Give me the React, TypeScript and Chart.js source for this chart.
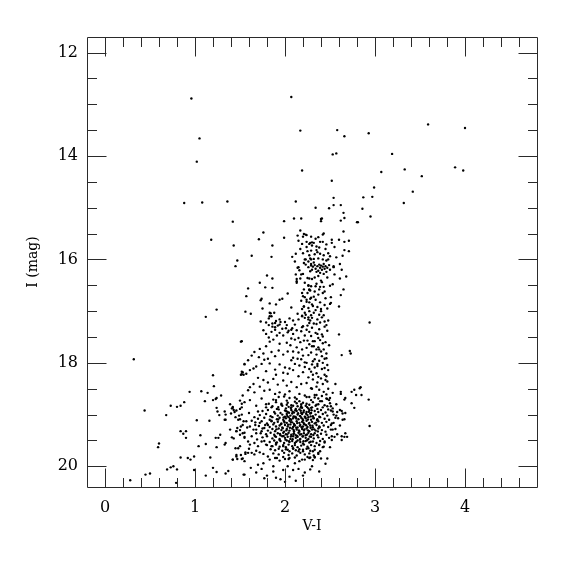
import React, { useEffect, useRef } from "react";
import { Chart, registerables } from "chart.js";

Chart.register(...registerables);

// ---- axis ticks / labels ----
const X_LABEL = "V-I";
const Y_LABEL = "I (mag)";
const X_MIN = -0.2;
const X_MAX = 4.8;
const Y_MIN = 11.7;
const Y_MAX = 20.4;
const X_MAJOR = [0, 1, 2, 3, 4];
const Y_MAJOR = [12, 14, 16, 18, 20];
const X_MINOR_STEP = 0.2;
const Y_MINOR_STEP = 0.5;

// ---- data: [V-I, I] ----
const brightGiants: number[][] = [
  [0.96, 12.89], [2.07, 12.86], [2.17, 13.51], [1.05, 13.66], [1.02, 14.11], [2.19, 14.28],
  [0.88, 14.91], [1.08, 14.90], [1.36, 14.88], [2.12, 14.88], [2.10, 15.21], [2.18, 15.21],
  [2.58, 13.50], [2.66, 13.62], [2.93, 13.56], [3.59, 13.39], [4.00, 13.46], [2.53, 13.97],
  [2.57, 13.95], [3.19, 13.96], [3.07, 14.31], [3.33, 14.26], [3.52, 14.39], [3.89, 14.22],
  [3.98, 14.28], [2.52, 14.48], [2.99, 14.61], [3.42, 14.69], [2.54, 14.81], [2.87, 14.80],
  [2.97, 14.79], [3.32, 14.91], [2.34, 15.00], [2.49, 15.01], [2.54, 14.95], [2.62, 14.95],
  [2.86, 15.02], [2.65, 15.10], [2.66, 15.20], [2.41, 15.21], [2.95, 15.17],
];

const upperBranch: number[][] = [
  [1.42, 15.27], [1.99, 15.26], [2.40, 15.22], [2.40, 15.26], [2.62, 15.25], [2.80, 15.28],
  [2.81, 15.28], [2.17, 15.44], [1.99, 15.58], [1.86, 15.73], [1.85, 15.95], [1.76, 15.48],
  [1.71, 15.61], [1.18, 15.62], [1.43, 15.73], [1.63, 15.93], [2.14, 15.54], [2.15, 15.64],
  [2.20, 15.56], [2.23, 15.52], [2.24, 15.66], [2.28, 15.68], [2.24, 15.76], [2.25, 15.84],
  [2.29, 15.83], [2.12, 15.89], [2.08, 15.95], [2.21, 15.51], [2.24, 15.53], [2.29, 15.56],
  [2.37, 15.57], [2.42, 15.52], [2.43, 15.50], [2.52, 15.62], [2.52, 15.68], [2.71, 15.64],
  [2.66, 15.66], [2.65, 15.46], [2.30, 15.67], [2.32, 15.68], [2.27, 15.70], [2.30, 15.73],
  [2.39, 15.66], [2.42, 15.66], [2.38, 15.77], [2.35, 15.75], [2.35, 15.82], [2.39, 15.89],
  [2.43, 15.92], [2.66, 15.82], [2.71, 15.84], [2.64, 15.93], [2.50, 15.94], [2.57, 15.96],
  [2.17, 15.80], [2.20, 15.88], [2.27, 15.92], [2.33, 15.90], [2.36, 15.86], [2.45, 15.80],
  [2.48, 15.88], [2.55, 15.76], [2.19, 15.70], [2.34, 15.60], [2.46, 15.71], [2.60, 15.62],
];

const clumpStars: number[][] = [
  [2.23, 16.00], [2.26, 16.04], [2.21, 16.07], [2.28, 15.98], [2.32, 15.99], [2.37, 15.98],
  [2.42, 16.00], [2.46, 16.02], [2.48, 16.00], [2.11, 16.04], [2.15, 16.15], [2.16, 16.21],
  [2.54, 16.13], [2.54, 16.15], [2.61, 16.09], [2.63, 16.20], [2.68, 16.33], [2.61, 16.37],
  [2.55, 16.29], [2.29, 16.09], [2.31, 16.14], [2.33, 16.11], [2.34, 16.18], [2.36, 16.13],
  [2.37, 16.22], [2.38, 16.10], [2.39, 16.16], [2.40, 16.12], [2.41, 16.20], [2.42, 16.14],
  [2.43, 16.09], [2.44, 16.18], [2.45, 16.13], [2.46, 16.24], [2.47, 16.16], [2.49, 16.11],
  [2.30, 16.20], [2.35, 16.24], [2.32, 16.06], [2.26, 16.15], [2.50, 16.20], [2.39, 16.26],
  [2.28, 16.23], [2.22, 16.00], [2.29, 16.00], [2.23, 16.10], [2.29, 16.12], [2.14, 16.16],
];

const middleBranch: number[][] = [
  [1.47, 16.02], [1.45, 16.13], [1.80, 16.31], [1.86, 16.37], [1.72, 16.45], [1.59, 16.56],
  [1.78, 16.54], [1.86, 16.55], [1.57, 16.71], [1.74, 16.76], [1.73, 16.79], [1.94, 16.78],
  [1.97, 16.76], [1.83, 16.85], [1.90, 16.87], [1.75, 16.95], [1.24, 16.97], [1.12, 17.11],
  [1.56, 17.01], [1.62, 17.05], [1.84, 17.04], [1.83, 17.10], [1.82, 17.14], [1.88, 17.03],
  [1.73, 17.20], [1.79, 17.22], [1.82, 17.27], [1.86, 17.24], [1.89, 17.23], [1.94, 17.16],
  [2.01, 17.33], [2.09, 17.18], [2.94, 17.22], [2.12, 16.29], [2.18, 16.29], [2.13, 16.42],
  [2.17, 16.37], [2.25, 16.36], [2.26, 16.51], [2.27, 16.59], [2.19, 16.65], [2.22, 16.73],
  [2.24, 16.82], [2.28, 16.76], [2.21, 16.91], [2.19, 17.09], [2.22, 17.13], [2.26, 17.12],
  [2.15, 17.16], [2.20, 17.29], [2.53, 16.48], [2.50, 16.51], [2.65, 16.58], [2.62, 16.69],
  [2.60, 16.91], [2.51, 16.73], [2.51, 16.84], [2.50, 16.86], [2.20, 16.28], [2.13, 16.38],
  [2.13, 16.45], [2.27, 16.37], [2.30, 16.38], [2.33, 16.35], [2.37, 16.32], [2.43, 16.28],
  [2.47, 16.35], [2.40, 16.41], [2.26, 16.50], [2.29, 16.52], [2.34, 16.52], [2.39, 16.53],
  [2.43, 16.53], [2.27, 16.58], [2.33, 16.62], [2.25, 16.65], [2.37, 16.68], [2.42, 16.65],
  [2.20, 16.71], [2.29, 16.74], [2.34, 16.78], [2.39, 16.83], [2.27, 16.83], [2.30, 16.87],
  [2.21, 16.91], [2.19, 16.96], [2.36, 16.92], [2.40, 16.96], [2.27, 17.00], [2.32, 17.03],
  [2.23, 17.07], [2.38, 17.07], [2.43, 17.08], [2.19, 17.10], [2.26, 17.16], [2.30, 17.13],
  [2.36, 17.16], [2.27, 17.23], [2.32, 17.24], [2.39, 17.22], [2.44, 17.20], [2.48, 17.18],
  [2.22, 16.45], [2.35, 16.47], [2.41, 16.44], [2.28, 16.60], [2.38, 16.58], [2.44, 16.62],
  [2.24, 16.78], [2.32, 16.72], [2.45, 16.75], [2.26, 16.94], [2.34, 16.98], [2.44, 16.88],
  [2.22, 17.03], [2.29, 17.08], [2.41, 17.12], [2.25, 17.28], [2.35, 17.25], [2.46, 17.27],
  [2.21, 16.58], [2.31, 16.90], [2.47, 16.95], [2.18, 16.80], [2.40, 17.00], [2.28, 17.18],
  [1.83, 17.03], [1.85, 17.10], [1.90, 17.19], [1.89, 17.31], [1.94, 17.26], [2.00, 17.21],
  [2.05, 17.14], [2.07, 17.36], [2.11, 17.26], [2.14, 17.05], [2.07, 16.93], [2.03, 16.66],
];

const lowerBranch: number[][] = [
  [2.60, 17.45], [2.63, 17.85], [2.72, 17.77], [2.73, 17.82], [2.56, 18.41], [2.42, 18.00],
  [2.44, 18.10], [2.41, 17.87], [2.46, 17.91], [2.38, 17.74], [2.42, 17.62], [2.42, 17.49],
  [2.37, 17.52], [2.44, 18.23], [2.46, 18.26], [2.45, 18.33], [2.30, 17.32], [2.38, 17.35],
  [2.44, 17.30], [2.27, 17.40], [2.34, 17.42], [2.41, 17.45], [2.47, 17.38], [2.31, 17.58],
  [2.39, 17.56], [2.45, 17.60], [2.30, 17.68], [2.37, 17.70], [2.43, 17.74], [2.49, 17.66],
  [2.29, 17.80], [2.35, 17.84], [2.40, 17.78], [2.46, 17.82], [2.33, 17.93], [2.38, 17.96],
  [2.44, 17.92], [2.30, 18.03], [2.36, 18.06], [2.41, 18.12], [2.47, 18.04], [2.29, 18.17],
  [2.35, 18.20], [2.40, 18.30], [2.48, 18.14], [2.31, 18.32], [2.36, 18.38], [2.42, 18.41],
  [2.47, 18.36], [2.30, 18.50], [2.38, 18.52], [2.43, 18.56], [2.48, 18.50], [2.53, 18.58],
  [2.35, 18.62], [2.41, 18.64], [2.46, 18.61], [2.08, 17.33], [2.13, 17.37], [2.19, 17.31],
  [2.24, 17.36], [2.11, 17.55], [2.17, 17.60], [2.21, 17.57], [2.06, 17.66], [2.13, 17.70],
  [2.19, 17.74], [2.09, 17.78], [2.14, 17.92], [2.20, 17.86], [2.07, 17.95], [2.24, 18.00],
  [1.86, 17.30], [1.92, 17.28], [1.97, 17.34], [2.02, 17.27], [2.04, 17.38], [1.95, 17.21],
  [1.76, 17.37], [1.79, 17.44], [1.85, 17.40], [1.89, 17.36], [1.91, 17.47], [1.82, 17.51],
  [1.87, 17.55], [1.94, 17.42], [1.98, 17.47], [2.03, 17.41], [2.09, 17.44], [2.15, 17.52],
  [2.18, 17.39], [2.22, 17.47], [2.25, 17.57], [2.29, 17.48], [2.33, 17.58], [2.36, 17.44],
  [2.27, 17.64], [2.32, 17.68], [2.24, 17.71], [2.35, 17.74], [2.07, 17.53], [2.02, 17.61],
  [1.94, 17.63], [1.83, 17.59], [1.79, 17.68], [1.52, 17.58], [1.72, 17.73], [1.66, 17.79],
  [1.63, 17.86], [1.59, 17.95], [1.55, 18.02], [1.53, 18.18], [1.52, 18.22], [1.57, 18.21],
  [1.61, 18.14], [1.65, 18.11], [1.68, 18.07], [1.74, 18.02], [1.77, 17.94], [1.71, 17.89],
  [1.76, 17.82], [1.81, 17.92], [1.85, 17.79], [1.89, 17.87], [1.93, 17.76], [1.98, 17.84],
  [2.03, 17.78], [2.09, 17.90], [2.15, 17.80], [2.18, 17.93], [2.22, 17.99], [2.26, 17.85],
  [2.31, 17.97], [2.36, 18.02], [2.33, 18.09], [2.27, 18.12], [2.22, 18.08], [2.16, 18.05],
  [2.11, 18.02], [2.05, 18.11], [2.00, 18.09], [1.94, 18.03], [1.89, 18.13], [1.83, 18.01],
  [1.79, 18.16], [1.90, 18.23], [1.98, 18.19], [2.03, 18.21], [2.09, 18.14], [2.15, 18.26],
  [2.20, 18.18], [2.26, 18.28], [2.31, 18.23], [2.37, 18.27], [1.70, 18.29], [1.76, 18.33],
  [1.81, 18.38], [1.87, 18.31], [1.92, 18.42], [1.98, 18.34], [2.02, 18.44], [2.07, 18.37],
  [2.13, 18.47], [2.18, 18.41], [2.24, 18.39], [2.29, 18.49], [2.35, 18.46], [1.65, 18.41],
  [1.61, 18.47], [1.59, 18.53], [1.66, 18.57], [1.72, 18.46], [1.77, 18.54], [1.83, 18.52],
  [1.89, 18.60], [1.94, 18.57], [2.00, 18.61], [2.05, 18.55], [2.11, 18.67], [2.16, 18.60],
  [2.22, 18.63], [2.27, 18.66], [2.33, 18.62], [2.37, 18.69], [1.53, 18.63], [1.50, 18.73],
  [1.55, 18.76], [1.61, 18.72], [1.68, 18.83], [1.74, 18.69], [1.79, 18.80], [1.85, 18.86],
  [1.90, 18.72], [1.96, 18.79], [2.02, 18.81], [2.07, 18.86], [2.13, 18.78], [2.18, 18.84],
  [2.24, 18.79], [2.29, 18.87], [2.35, 18.81], [1.42, 18.87], [1.50, 18.89],
];

const redFlank: number[][] = [
  [2.62, 18.56], [2.62, 18.60], [2.67, 18.68], [2.66, 18.71], [2.74, 18.56], [2.77, 18.52],
  [2.83, 18.49], [2.84, 18.47], [2.79, 18.62], [2.85, 18.62], [2.93, 18.71], [2.74, 18.78],
  [2.77, 18.87], [2.67, 18.97], [2.64, 18.98], [2.64, 19.10], [2.66, 19.09], [2.94, 19.22],
  [2.61, 19.21], [2.67, 19.36], [2.69, 19.43], [2.63, 19.49], [2.66, 19.43], [2.63, 19.42],
  [2.58, 19.38], [2.55, 19.43], [2.47, 19.85], [2.33, 19.83], [2.28, 19.83], [2.42, 19.63],
  [2.50, 19.63], [2.44, 19.52], [2.38, 19.59], [2.52, 19.49], [2.52, 19.42], [2.53, 19.29],
  [2.56, 19.28], [2.51, 19.20], [2.54, 19.16], [2.61, 18.91], [2.63, 18.93], [2.57, 19.02],
  [2.59, 19.07], [2.50, 18.68], [2.49, 18.72], [2.47, 18.70], [2.51, 18.84], [2.53, 18.94],
  [2.48, 18.90],
];

const blueStars: number[][] = [
  [0.32, 17.93], [1.51, 17.59], [1.55, 18.03], [1.52, 18.17], [1.54, 18.23], [1.51, 18.23],
  [1.20, 18.24], [1.21, 18.45], [0.94, 18.56], [1.07, 18.55], [1.14, 18.58], [1.11, 18.74],
  [1.20, 18.72], [1.24, 18.68], [1.23, 18.70], [1.29, 18.63], [0.88, 18.76], [0.84, 18.83],
  [0.80, 18.85], [0.73, 18.83], [0.44, 18.92], [0.68, 19.01], [1.02, 19.11], [1.16, 19.12],
  [1.24, 18.87], [1.25, 18.94], [1.27, 19.01], [1.33, 18.94], [1.34, 19.00], [1.33, 19.10],
  [1.34, 19.10], [1.39, 18.80], [1.41, 18.88], [1.43, 18.91], [1.42, 18.85], [1.46, 18.92],
  [1.49, 19.02], [1.52, 18.79], [1.52, 18.86], [1.40, 18.98], [1.45, 19.05], [1.50, 19.09],
  [1.54, 19.13], [0.84, 19.32], [0.90, 19.32], [0.87, 19.37], [0.90, 19.45], [1.06, 19.40],
  [1.12, 19.57], [1.04, 19.61], [1.23, 19.45], [1.26, 19.45], [1.24, 19.63], [1.28, 19.39],
  [1.33, 19.58], [1.34, 19.55], [1.39, 19.29], [1.41, 19.44], [1.43, 19.46], [1.46, 19.32],
  [1.50, 19.30], [1.47, 19.26], [1.51, 19.23], [1.53, 19.36], [1.55, 19.43], [0.60, 19.56],
  [0.59, 19.63], [0.84, 19.83], [0.92, 19.84], [0.95, 19.87], [0.99, 19.81], [1.17, 19.83],
  [1.20, 20.03], [1.24, 20.11], [1.34, 20.14], [1.37, 20.09], [1.42, 19.87], [1.47, 19.86],
  [1.53, 19.85], [1.54, 20.16], [1.48, 19.65], [1.46, 19.78], [1.51, 19.78], [1.56, 19.76],
  [0.69, 20.06], [0.73, 20.02], [0.76, 20.00], [0.80, 20.06], [0.99, 20.07], [1.12, 20.18],
  [0.79, 20.32], [0.45, 20.16], [0.50, 20.14], [0.28, 20.27],
];

const faintEdge: number[][] = [
  [1.42, 19.87], [1.46, 19.81], [1.52, 19.86], [1.55, 19.90], [1.45, 19.65], [1.50, 19.61],
  [1.59, 19.74], [1.63, 19.74], [1.66, 19.77], [1.72, 19.73], [1.76, 19.76], [1.81, 19.81],
  [1.83, 19.87], [1.89, 19.84], [1.94, 19.89], [2.00, 19.86], [2.05, 19.84], [2.11, 19.94],
  [2.16, 19.90], [2.22, 19.87], [2.27, 19.84], [2.33, 19.82], [1.70, 19.97], [1.76, 19.94],
  [1.87, 20.00], [1.98, 20.07], [2.03, 20.00], [2.09, 20.07], [1.55, 20.16], [1.77, 20.23],
  [1.80, 20.18], [1.87, 20.10], [1.46, 19.32], [1.50, 19.39], [1.55, 19.45], [1.59, 19.52],
  [1.61, 19.58], [1.66, 19.55], [1.70, 19.61], [1.74, 19.52], [1.79, 19.58], [1.85, 19.61],
  [1.90, 19.55], [1.53, 19.20], [1.48, 19.10], [1.57, 19.13], [1.61, 19.23], [1.65, 19.29],
  [1.68, 19.36], [1.74, 19.32], [1.77, 19.26], [1.81, 19.20], [1.85, 19.13], [1.72, 19.16],
  [1.89, 19.42], [1.94, 19.49], [1.98, 19.61], [2.03, 19.68], [2.09, 19.65], [2.15, 19.71],
  [2.20, 19.68], [2.26, 19.65], [2.31, 19.71], [2.37, 19.74], [2.15, 20.05], [2.22, 20.12],
  [2.30, 20.00], [2.38, 20.10], [2.45, 19.95], [2.05, 20.20], [1.95, 20.25], [2.12, 20.28],
  [1.62, 20.03], [1.68, 20.12], [1.74, 20.05], [1.90, 20.22], [2.00, 20.30], [2.20, 20.18],
  [2.28, 20.06], [1.44, 18.95], [1.52, 19.00], [1.60, 18.97], [1.66, 19.05], [1.70, 18.94],
  [1.63, 19.12], [1.58, 19.25], [1.67, 19.20], [1.55, 19.35], [1.63, 19.42], [1.69, 19.48],
  [1.60, 19.66], [1.68, 19.70], [1.56, 19.73],
];

const faintCore: number[][] = [
  [1.87, 18.71], [1.93, 18.66], [2.02, 18.73], [2.05, 18.68], [2.13, 18.70], [2.16, 18.74], [2.24, 18.66], [2.29, 18.72], [2.33, 18.67], [2.41, 18.74], [2.46, 18.69], [1.99, 18.65],
  [1.82, 18.79], [1.90, 18.76], [1.96, 18.81], [2.03, 18.77], [2.07, 18.82], [2.11, 18.75], [2.18, 18.80], [2.20, 18.77], [2.27, 18.81], [2.31, 18.76], [2.37, 18.80], [2.39, 18.74], [2.44, 18.82], [2.50, 18.78], [2.57, 18.80],
  [1.79, 18.86], [1.86, 18.84], [1.91, 18.89], [1.97, 18.83], [2.01, 18.88], [2.04, 18.85], [2.09, 18.83], [2.12, 18.89], [2.14, 18.84], [2.19, 18.87], [2.23, 18.83], [2.26, 18.88], [2.30, 18.86], [2.34, 18.83], [2.36, 18.89], [2.42, 18.86], [2.47, 18.84], [2.53, 18.88],
  [1.75, 18.93], [1.81, 18.91], [1.88, 18.95], [1.93, 18.90], [1.95, 18.97], [2.00, 18.92], [2.03, 18.95], [2.07, 18.91], [2.10, 18.96], [2.13, 18.93], [2.16, 18.90], [2.18, 18.97], [2.21, 18.92], [2.24, 18.95], [2.27, 18.91], [2.29, 18.97], [2.33, 18.93], [2.37, 18.95], [2.40, 18.91], [2.45, 18.96], [2.51, 18.92], [2.58, 18.95],
  [1.72, 19.01], [1.79, 18.99], [1.84, 19.03], [1.89, 18.98], [1.92, 19.02], [1.97, 19.00], [2.00, 19.04], [2.02, 18.99], [2.06, 19.02], [2.08, 18.98], [2.11, 19.04], [2.14, 19.00], [2.17, 19.03], [2.19, 18.99], [2.22, 19.04], [2.25, 19.01], [2.28, 18.98], [2.31, 19.03], [2.34, 19.00], [2.38, 19.04], [2.42, 18.99], [2.47, 19.02], [2.54, 19.00],
  [1.70, 19.08], [1.77, 19.06], [1.83, 19.10], [1.86, 19.05], [1.91, 19.09], [1.94, 19.06], [1.98, 19.10], [2.01, 19.07], [2.04, 19.05], [2.07, 19.10], [2.09, 19.07], [2.12, 19.05], [2.15, 19.09], [2.18, 19.06], [2.20, 19.11], [2.23, 19.07], [2.26, 19.05], [2.29, 19.10], [2.32, 19.07], [2.36, 19.09], [2.39, 19.05], [2.44, 19.08], [2.49, 19.10], [2.56, 19.06],
  [1.67, 19.15], [1.74, 19.13], [1.80, 19.17], [1.85, 19.12], [1.88, 19.16], [1.92, 19.14], [1.96, 19.17], [1.99, 19.13], [2.02, 19.16], [2.05, 19.12], [2.08, 19.15], [2.10, 19.18], [2.13, 19.13], [2.16, 19.16], [2.19, 19.14], [2.21, 19.18], [2.24, 19.12], [2.27, 19.16], [2.30, 19.14], [2.33, 19.17], [2.37, 19.13], [2.41, 19.16], [2.46, 19.14], [2.52, 19.17],
  [1.71, 19.22], [1.78, 19.20], [1.83, 19.24], [1.87, 19.19], [1.90, 19.23], [1.94, 19.21], [1.97, 19.25], [2.00, 19.20], [2.03, 19.23], [2.06, 19.19], [2.09, 19.24], [2.11, 19.21], [2.14, 19.25], [2.17, 19.20], [2.20, 19.23], [2.22, 19.19], [2.25, 19.24], [2.28, 19.21], [2.31, 19.25], [2.35, 19.20], [2.38, 19.23], [2.43, 19.21], [2.48, 19.24],
  [1.68, 19.29], [1.75, 19.27], [1.81, 19.31], [1.86, 19.28], [1.89, 19.32], [1.93, 19.27], [1.96, 19.30], [1.99, 19.33], [2.02, 19.28], [2.05, 19.31], [2.08, 19.27], [2.10, 19.32], [2.13, 19.29], [2.16, 19.33], [2.19, 19.28], [2.21, 19.31], [2.24, 19.27], [2.27, 19.32], [2.30, 19.29], [2.34, 19.31], [2.37, 19.27], [2.41, 19.30], [2.45, 19.33], [2.51, 19.29],
  [1.73, 19.36], [1.79, 19.38], [1.84, 19.35], [1.88, 19.39], [1.92, 19.36], [1.95, 19.40], [1.98, 19.35], [2.01, 19.38], [2.04, 19.35], [2.07, 19.39], [2.10, 19.36], [2.12, 19.40], [2.15, 19.35], [2.18, 19.38], [2.21, 19.36], [2.23, 19.40], [2.26, 19.35], [2.29, 19.38], [2.33, 19.36], [2.36, 19.40], [2.40, 19.37], [2.46, 19.39],
  [1.75, 19.44], [1.80, 19.42], [1.86, 19.46], [1.90, 19.43], [1.94, 19.47], [1.97, 19.42], [2.00, 19.45], [2.03, 19.43], [2.06, 19.47], [2.09, 19.42], [2.12, 19.45], [2.14, 19.43], [2.17, 19.47], [2.20, 19.42], [2.23, 19.45], [2.26, 19.47], [2.29, 19.43], [2.32, 19.46], [2.37, 19.44], [2.42, 19.47], [2.49, 19.45],
  [1.77, 19.51], [1.83, 19.53], [1.88, 19.50], [1.91, 19.54], [1.95, 19.51], [1.99, 19.55], [2.02, 19.50], [2.05, 19.53], [2.08, 19.51], [2.11, 19.55], [2.14, 19.50], [2.17, 19.53], [2.20, 19.56], [2.23, 19.51], [2.27, 19.54], [2.31, 19.52], [2.35, 19.55], [2.39, 19.51], [2.44, 19.54],
  [1.80, 19.59], [1.86, 19.61], [1.90, 19.58], [1.94, 19.62], [1.98, 19.59], [2.01, 19.63], [2.04, 19.58], [2.08, 19.61], [2.11, 19.59], [2.14, 19.63], [2.18, 19.60], [2.21, 19.58], [2.25, 19.62], [2.29, 19.59], [2.33, 19.61], [2.38, 19.58], [2.43, 19.62],
  [1.84, 19.67], [1.89, 19.69], [1.93, 19.66], [1.97, 19.70], [2.01, 19.67], [2.05, 19.71], [2.09, 19.66], [2.12, 19.69], [2.16, 19.67], [2.20, 19.71], [2.24, 19.66], [2.28, 19.70], [2.33, 19.68], [2.39, 19.71],
  [1.87, 19.75], [1.93, 19.77], [1.99, 19.74], [2.04, 19.78], [2.08, 19.75], [2.13, 19.79], [2.17, 19.74], [2.22, 19.77], [2.27, 19.75], [2.32, 19.79], [2.37, 19.76],
  [1.91, 19.84], [1.98, 19.82], [2.04, 19.86], [2.11, 19.83], [2.19, 19.87], [2.25, 19.82], [2.31, 19.88], [2.40, 19.85],
];

const denseHeart: number[][] = [
  [2.015, 18.935], [2.045, 18.965], [2.085, 18.945], [2.115, 18.915], [2.145, 18.975], [2.175, 18.925],
  [2.205, 18.955], [2.235, 18.985], [2.265, 18.945], [2.295, 18.915], [1.985, 19.055], [2.025, 19.025],
  [2.055, 19.085], [2.095, 19.035], [2.125, 19.075], [2.165, 19.025], [2.195, 19.085], [2.225, 19.045],
  [2.255, 19.095], [2.285, 19.035], [2.315, 19.065], [1.955, 19.185], [1.995, 19.155], [2.035, 19.195],
  [2.065, 19.145], [2.105, 19.205], [2.135, 19.165], [2.165, 19.215], [2.205, 19.155], [2.235, 19.205],
  [2.265, 19.175], [2.305, 19.215], [2.345, 19.155], [1.975, 19.265], [2.015, 19.305], [2.055, 19.255],
  [2.095, 19.295], [2.125, 19.255], [2.155, 19.305], [2.185, 19.245], [2.215, 19.285], [2.255, 19.305],
  [2.285, 19.255], [2.325, 19.285], [1.945, 19.375], [1.985, 19.415], [2.025, 19.385], [2.065, 19.425],
  [2.095, 19.375], [2.135, 19.415], [2.165, 19.385], [2.195, 19.425], [2.245, 19.385], [2.275, 19.425],
  [2.315, 19.395], [2.005, 19.485], [2.045, 19.515], [2.085, 19.475], [2.125, 19.525], [2.165, 19.485],
  [2.205, 19.515], [2.245, 19.495], [2.285, 19.525], [1.925, 18.855], [2.065, 18.875], [2.175, 18.865],
  [2.245, 18.855], [2.355, 19.105], [2.385, 19.245], [2.365, 19.325], [1.925, 19.095], [1.905, 19.285],
];

const ALL_STARS = [
  ...brightGiants, ...upperBranch, ...clumpStars, ...middleBranch,
  ...lowerBranch, ...redFlank, ...blueStars, ...faintEdge, ...faintCore, ...denseHeart,
];

const SERIF = "'DejaVu Serif', 'Liberation Serif', serif";
const INK = "#000";
const FRAME = "#2a2a2a";

const frameTicks = {
  id: "frameTicks",
  afterDatasetsDraw(chart: any) {
    const { ctx, chartArea } = chart;
    const { left, right, top, bottom } = chartArea;
    const xs = chart.scales.x;
    const ys = chart.scales.y;
    const L = Math.floor(left) + 0.5;
    const R = Math.floor(right) + 0.5;
    const T = Math.floor(top) + 0.5;
    const B = Math.floor(bottom) + 0.5;
    ctx.save();
    ctx.strokeStyle = FRAME;
    ctx.lineWidth = 1;
    ctx.beginPath();
    ctx.rect(L, T, R - L, B - T);
    ctx.stroke();
    const major = 19;
    const minor = 9.5;
    ctx.beginPath();
    for (let i = 1; X_MIN + i * X_MINOR_STEP < X_MAX - 1e-6; i++) {
      const v = X_MIN + i * X_MINOR_STEP;
      const isMajor = X_MAJOR.some((m) => Math.abs(m - v) < 1e-6);
      const len = isMajor ? major : minor;
      const px = Math.round(xs.getPixelForValue(v)) + 0.5;
      ctx.moveTo(px, B);
      ctx.lineTo(px, B - len);
      ctx.moveTo(px, T);
      ctx.lineTo(px, T + len);
    }
    const yStart = Math.ceil(Y_MIN / Y_MINOR_STEP) * Y_MINOR_STEP;
    for (let v = yStart; v < Y_MAX - 1e-6; v += Y_MINOR_STEP) {
      const isMajor = Y_MAJOR.some((m) => Math.abs(m - v) < 1e-6);
      const len = isMajor ? major : minor;
      const py = Math.round(ys.getPixelForValue(v)) + 0.5;
      ctx.moveTo(L, py);
      ctx.lineTo(L + len, py);
      ctx.moveTo(R, py);
      ctx.lineTo(R - len, py);
    }
    ctx.stroke();
    ctx.restore();
  },
};

export default function App() {
  const canvasRef = useRef<HTMLCanvasElement | null>(null);

  useEffect(() => {
    const canvas = canvasRef.current;
    if (!canvas) return;
    const chart = new Chart(canvas, {
      type: "scatter",
      data: {
        datasets: [
          {
            data: ALL_STARS.map(([x, y]) => ({ x, y })),
            pointRadius: 1.2,
            pointHoverRadius: 1.2,
            pointStyle: "circle",
            backgroundColor: INK,
            borderWidth: 0,
          },
        ],
      },
      options: {
        animation: false,
        responsive: false,
        devicePixelRatio: 1,
        events: [],
        layout: { padding: { top: 37, right: 38, left: 0, bottom: 0 } },
        plugins: {
          legend: { display: false },
          tooltip: { enabled: false },
        },
        scales: {
          x: {
            type: "linear",
            min: X_MIN,
            max: X_MAX,
            afterBuildTicks: (s: any) => {
              s.ticks = X_MAJOR.map((v) => ({ value: v }));
            },
            afterFit: (s: any) => {
              s.height = 88;
            },
            grid: { display: false, drawTicks: false },
            border: { display: false },
            ticks: {
              autoSkip: false,
              maxRotation: 0,
              padding: 11,
              color: INK,
              font: { family: SERIF, size: 16 },
              callback: (v: any) => String(v),
            },
            title: {
              display: true,
              text: X_LABEL,
              color: INK,
              font: { family: SERIF, size: 14 },
              padding: { top: 0, bottom: 40 },
            },
          },
          y: {
            type: "linear",
            reverse: true,
            min: Y_MIN,
            max: Y_MAX,
            afterBuildTicks: (s: any) => {
              s.ticks = Y_MAJOR.map((v) => ({ value: v }));
            },
            afterFit: (s: any) => {
              s.width = 87;
            },
            grid: { display: false, drawTicks: false },
            border: { display: false },
            ticks: {
              autoSkip: false,
              padding: 9,
              color: INK,
              font: { family: SERIF, size: 16 },
              callback: (v: any) => String(v),
            },
            title: {
              display: true,
              text: Y_LABEL,
              color: INK,
              font: { family: SERIF, size: 14 },
              padding: { top: 25, bottom: 0 },
            },
          },
        },
      },
      plugins: [frameTicks],
    });
    return () => chart.destroy();
  }, []);

  return (
    <div style={{ position: "fixed", left: 0, top: 0, width: 575, height: 575, background: "#fff" }}>
      <canvas ref={canvasRef} width={575} height={575} style={{ width: 575, height: 575, display: "block" }} />
    </div>
  );
}
